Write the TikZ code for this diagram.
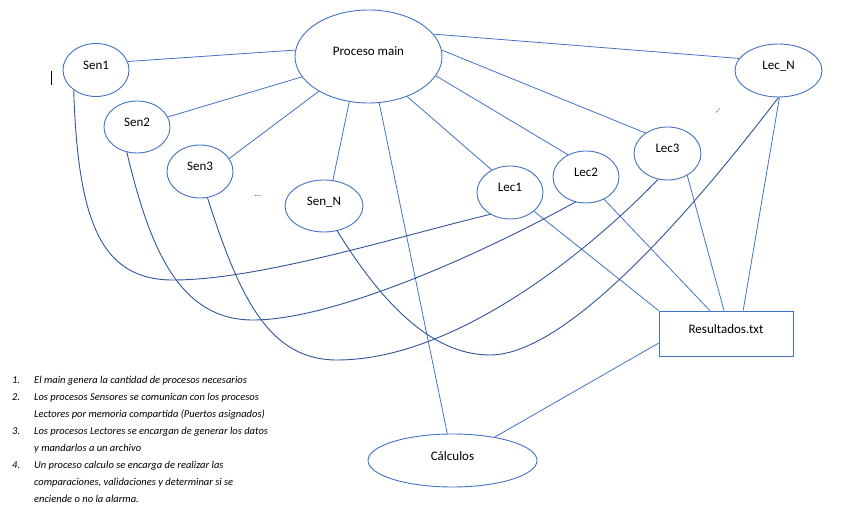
\documentclass[tikz,border=0pt]{standalone}
\usepackage{fontspec}
\setmainfont{Carlito}
\usetikzlibrary{calc,shapes.geometric}
\definecolor{lb}{HTML}{4472C4}
\definecolor{db}{HTML}{2F5597}
\begin{document}
\begin{tikzpicture}[x=1pt,y=-1pt,
  ell/.style={draw=lb, line width=0.9pt, ellipse, inner sep=0pt,
    font=\fontsize{13}{15}\selectfont, text height=9pt, text depth=10pt},
  box/.style={draw=lb, line width=0.9pt, rectangle, inner sep=0pt,
    font=\fontsize{13}{15}\selectfont, text height=9pt, text depth=10pt},
  link/.style={draw=lb, line width=0.8pt},
  curve/.style={draw=db, line width=0.9pt},
  dots/.style={font=\fontsize{8}{9}\selectfont, inner sep=0pt}]
\useasboundingbox (0,0) rectangle (850,518);

% nodes
\node[ell, minimum width=147pt, minimum height=93pt] (main) at (368.5,56.5) {Proceso main};
\node[ell, minimum width=66pt, minimum height=53pt] (sen1) at (96,70) {Sen1};
\node[ell, minimum width=66pt, minimum height=52pt] (sen2) at (137,127) {Sen2};
\node[ell, minimum width=66pt, minimum height=53pt] (sen3) at (200,171.5) {Sen3};
\node[ell, minimum width=78pt, minimum height=52pt] (senN) at (324,206) {Sen\_N};
\node[ell, minimum width=66pt, minimum height=53pt] (lec1) at (510,192.5) {Lec1};
\node[ell, minimum width=66pt, minimum height=52pt] (lec2) at (586,177) {Lec2};
\node[ell, minimum width=67pt, minimum height=53pt] (lec3) at (667.5,153.5) {Lec3};
\node[ell, minimum width=87pt, minimum height=53pt] (lecN) at (778.5,70.5) {Lec\_N};
\node[box, minimum width=134pt, minimum height=45pt] (res) at (726,333.5) {Resultados.txt};
\node[ell, minimum width=169pt, minimum height=53pt] (calc) at (452.5,460.5) {Cálculos};

\node[dots] (d1) at (258,196) {...};
\node[dots, rotate=50] (d2) at (718,111) {...};

% text cursor
\draw[black, line width=0.8pt] (51.5,71) -- (51.5,85);

% straight links from main
\draw[link] (main.175.8) -- (sen1.15.3);
\draw[link] (main.197.4) -- (sen2.18.4);
\draw[link] (main.215.6) -- (sen3.24.4);
\draw[link] (main.247.2) -- (senN.71.6);
\draw[link] (main.283.9) -- (calc.101.7);
\draw[link] (main.314.3) -- (lec1.129.9);
\draw[link] (main.344.5) -- (lec2.129.6);
\draw[link] (main.5.1) -- (lec3.137.8);
\draw[link] (main.19.5) -- (lecN.163.8);

% links to Resultados
\draw[link] (lec1.322) -- (res.north west);
\draw[link] (lec2.309.6) -- ($(res.north west)!0.38!(res.north east)$);
\draw[link] (lec3.312.5) -- ($(res.north west)!0.485!(res.north east)$);
\draw[link] (lecN.272) -- ($(res.north west)!0.627!(res.north east)$);
\draw[link] ($(res.north west)!0.71!(res.south west)$) -- (calc.29);

% curves sensors -> readers
\draw[curve] (sen1.222) .. controls (78,220) and (100,280) .. (173,280)
  .. controls (260,280) and (400,236) .. (lec1.228.4);
\draw[curve] (sen2.248.2) .. controls (150,250) and (180,320) .. (253,320)
  .. controls (330,320) and (470,260) .. (lec2.247.8);
\draw[curve] (sen3.286.8) .. controls (240,300) and (270,360) .. (337,360)
  .. controls (450,360) and (580,260) .. (lec3.250.3);
\draw[curve] (senN.298.4) .. controls (380,300) and (430,355) .. (490,355)
  .. controls (570,355) and (700,200) .. (lecN.270);

% list
\node[anchor=north west, inner sep=0pt, font=\fontsize{10.5}{17}\selectfont\itshape] (list) at (12,371.5) {%
\begin{tabular}{@{}p{22pt}@{}l@{}}
1. & El main genera la cantidad de procesos necesarios\\
2. & Los procesos Sensores se comunican con los procesos\\
   & Lectores por memoria compartida (Puertos asignados)\\
3. & Los procesos Lectores se encargan de generar los datos\\
   & y mandarlos a un archivo\\
4. & Un proceso calculo se encarga de realizar las\\
   & comparaciones, validaciones y determinar si se\\
   & enciende o no la alarma.
\end{tabular}};
\end{tikzpicture}
\end{document}
